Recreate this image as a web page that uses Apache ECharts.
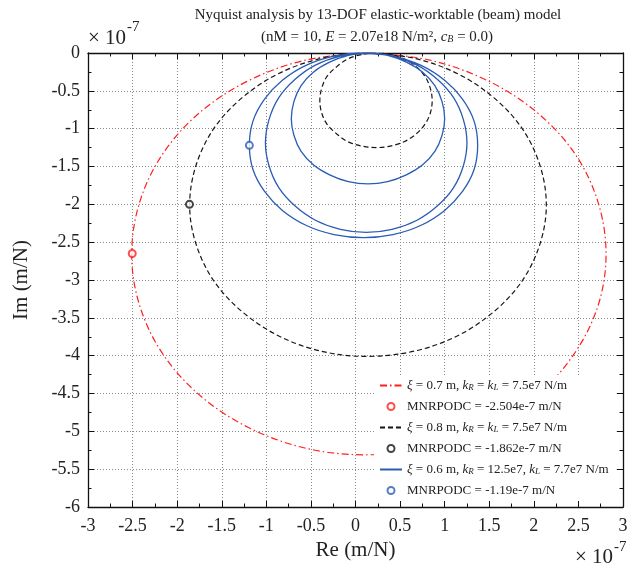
<!DOCTYPE html>
<html>
<head>
<meta charset="utf-8">
<script src="https://cdn.jsdelivr.net/npm/echarts@6/dist/echarts.min.js"></script>
<style>
  html, body { margin: 0; padding: 0; background: #fff; }
  #chart { width: 634px; height: 570px; }
</style>
</head>
<body>
<div id="chart"></div>
<script>
// all values in units of 1e-7 m/N
const xTicks = [-3, -2.5, -2, -1.5, -1, -0.5, 0, 0.5, 1, 1.5, 2, 2.5, 3];
const yTicks = [-6, -5.5, -5, -4.5, -4, -3.5, -3, -2.5, -2, -1.5, -1, -0.5, 0];

// xi = 0.7 m (red, dash-dot)
const redLoop = [
  [0.13, 0], [0.82, -0.09], [1.49, -0.37], [2.04, -0.79], [2.46, -1.33], [2.72, -1.97],
  [2.81, -2.66], [2.72, -3.34], [2.45, -3.98], [2.03, -4.53], [1.47, -4.95], [0.80, -5.22],
  [0.10, -5.31], [-0.57, -5.22], [-1.20, -4.95], [-1.74, -4.53], [-2.16, -3.98], [-2.42, -3.34],
  [-2.51, -2.66], [-2.42, -1.97], [-2.16, -1.33], [-1.74, -0.78], [-1.19, -0.36], [-0.55, -0.09],
  [0.13, 0]
];
// xi = 0.8 m (black, dashed): big loop then small loop
const blackOuter = [
  [0.14, 0], [0.66, -0.07], [1.14, -0.27], [1.55, -0.59], [1.87, -1.00], [2.07, -1.49],
  [2.14, -2.01], [2.07, -2.52], [1.87, -3.01], [1.55, -3.42], [1.14, -3.74], [0.66, -3.94],
  [0.12, -4.01], [-0.39, -3.94], [-0.86, -3.74], [-1.27, -3.42], [-1.59, -3.01], [-1.79, -2.52],
  [-1.86, -2.01], [-1.79, -1.49], [-1.59, -1.00], [-1.27, -0.59], [-0.86, -0.27], [-0.38, -0.07],
  [0.14, 0]
];
const blackInner = [
  [0.23, 0], [0.39, -0.02], [0.55, -0.08], [0.68, -0.18], [0.78, -0.31], [0.84, -0.47],
  [0.86, -0.63], [0.84, -0.79], [0.78, -0.94], [0.68, -1.07], [0.55, -1.17], [0.39, -1.23],
  [0.23, -1.25], [0.07, -1.23], [-0.09, -1.17], [-0.21, -1.07], [-0.32, -0.94], [-0.38, -0.79],
  [-0.40, -0.63], [-0.38, -0.47], [-0.32, -0.31], [-0.21, -0.18], [-0.09, -0.08], [0.07, -0.02],
  [0.23, 0]
];
// xi = 0.6 m (blue, solid): three loops
const blueLoop1 = [
  [0.09, 0], [0.42, -0.04], [0.73, -0.16], [1.00, -0.36], [1.20, -0.61], [1.33, -0.90],
  [1.37, -1.22], [1.33, -1.54], [1.20, -1.83], [1.00, -2.08], [0.73, -2.28], [0.42, -2.40],
  [0.09, -2.44], [-0.24, -2.40], [-0.55, -2.28], [-0.82, -2.08], [-1.02, -1.83], [-1.15, -1.54],
  [-1.19, -1.22], [-1.15, -0.90], [-1.02, -0.61], [-0.82, -0.36], [-0.55, -0.16], [-0.24, -0.04],
  [0.09, 0]
];
const blueLoop2 = [
  [0.12, 0], [0.41, -0.04], [0.69, -0.16], [0.92, -0.35], [1.10, -0.59], [1.21, -0.88],
  [1.25, -1.19], [1.21, -1.49], [1.10, -1.78], [0.92, -2.02], [0.69, -2.21], [0.41, -2.33],
  [0.12, -2.37], [-0.17, -2.33], [-0.45, -2.21], [-0.68, -2.02], [-0.86, -1.78], [-0.97, -1.49],
  [-1.01, -1.19], [-0.97, -0.88], [-0.86, -0.59], [-0.68, -0.35], [-0.45, -0.16], [-0.17, -0.04],
  [0.12, 0]
];
const blueLoop3 = [
  [0.14, 0], [0.36, -0.03], [0.57, -0.12], [0.75, -0.25], [0.89, -0.43], [0.97, -0.64],
  [1.00, -0.87], [0.97, -1.09], [0.89, -1.30], [0.75, -1.48], [0.57, -1.61], [0.36, -1.70],
  [0.14, -1.73], [-0.08, -1.70], [-0.29, -1.61], [-0.47, -1.48], [-0.61, -1.30], [-0.69, -1.09],
  [-0.72, -0.87], [-0.69, -0.64], [-0.61, -0.43], [-0.47, -0.25], [-0.29, -0.12], [-0.08, -0.03],
  [0.14, 0]
];
// MNRPODC points
const redMark = [[-2.504, -2.65]];
const blackMark = [[-1.862, -2.0]];
const blueMark = [[-1.19, -1.22]];

const FONT = 'Liberation Serif';
const RED = '#ff1f1f';
const BLACK = '#151515';
const BLUE = '#2a5cb4';
const SMOOTH = 0.34;

const legendText = {
  r07: '{i|ξ} = 0.7 m, {i|k}{s|R} = {i|k}{s|L} = 7.5e7 N/m',
  rMark: 'MNRPODC = -2.504e-7 m/N',
  b08: '{i|ξ} = 0.8 m, {i|k}{s|R} = {i|k}{s|L} = 7.5e7 N/m',
  bMark: 'MNRPODC = -1.862e-7 m/N',
  u06: '{i|ξ} = 0.6 m, {i|k}{s|R} = 12.5e7, {i|k}{s|L} = 7.7e7 N/m',
  uMark: 'MNRPODC = -1.19e-7 m/N'
};

const chart = echarts.init(document.getElementById('chart'));

function valueAxis(dim, pos, ticks, main) {
  const ax = {
    type: 'value',
    position: pos,
    min: ticks[0],
    max: ticks[ticks.length - 1],
    interval: 0.5,
    axisLine: { show: true, onZero: false, lineStyle: { color: '#111', width: 1.3 } },
    axisTick: { show: true, inside: true, length: 6, lineStyle: { color: '#111', width: 1 } },
    minorTick: { show: true, splitNumber: 2, length: 3.5, lineStyle: { color: '#111', width: 1 } },
    splitLine: { show: main, lineStyle: { color: '#8a8a8a', width: 1, type: [1, 2] } },
    axisLabel: {
      show: main,
      color: '#222',
      fontFamily: FONT,
      fontSize: 18,
      margin: dim === 'x' ? 10 : 8
    }
  };
  if (main) {
    ax.name = dim === 'x' ? 'Re (m/N)' : 'Im (m/N)';
    ax.nameLocation = 'middle';
    ax.nameGap = dim === 'x' ? 32 : 56;
    ax.nameTextStyle = { color: '#222', fontFamily: FONT, fontSize: 21 };
  }
  return ax;
}

const richSub = {
  i: { fontStyle: 'italic', fontFamily: FONT, fontSize: 13, color: '#222' },
  s: { fontStyle: 'italic', fontFamily: FONT, fontSize: 9, color: '#222', verticalAlign: 'bottom', lineHeight: 10 }
};

// hide the dot that echarts puts in the middle of a line legend icon
const noDot = { opacity: 0 };

const option = {
  animation: false,
  backgroundColor: '#fff',
  grid: { left: 88, right: 11, top: 53, bottom: 63, containLabel: false },
  xAxis: [valueAxis('x', 'bottom', xTicks, true), valueAxis('x', 'top', xTicks, false)],
  yAxis: [valueAxis('y', 'left', yTicks, true), valueAxis('y', 'right', yTicks, false)],
  legend: {
    orient: 'vertical',
    left: 374,
    top: 375,
    padding: [4, 8, 4, 5],
    backgroundColor: '#fff',
    itemWidth: 22,
    itemHeight: 7,
    itemGap: 8,
    data: [
      { name: 'r07', itemStyle: noDot },
      'rMark',
      { name: 'b08', itemStyle: noDot },
      'bMark',
      { name: 'u06', itemStyle: noDot },
      'uMark'
    ],
    formatter: (name) => legendText[name],
    textStyle: {
      color: '#222',
      fontFamily: FONT,
      fontSize: 13,
      lineHeight: 13,
      rich: richSub
    }
  },
  graphic: [
    {
      type: 'text',
      style: {
        text: 'Nyquist analysis by 13-DOF elastic-worktable (beam) model',
        x: 378, y: 15, align: 'center', verticalAlign: 'middle',
        fontFamily: FONT, fontSize: 15, fill: '#222'
      }
    },
    {
      type: 'text',
      style: {
        text: '(nM = 10, {i|E} = 2.07e18 N/m², {i|c}{s|B} = 0.0)',
        x: 377, y: 37, align: 'center', verticalAlign: 'middle',
        fontFamily: FONT, fontSize: 15, fill: '#222',
        rich: {
          i: { fontStyle: 'italic', fontFamily: FONT, fontSize: 15, fill: '#222' },
          s: { fontStyle: 'italic', fontFamily: FONT, fontSize: 10, fill: '#222', verticalAlign: 'bottom', lineHeight: 11 }
        }
      }
    },
    { type: 'text', style: { text: '× 10', x: 88, y: 38, verticalAlign: 'middle', fontFamily: FONT, fontSize: 21, fill: '#222' } },
    { type: 'text', style: { text: '-7', x: 127, y: 27, verticalAlign: 'middle', fontFamily: FONT, fontSize: 15, fill: '#222' } },
    { type: 'text', style: { text: '× 10', x: 613, y: 557, align: 'right', verticalAlign: 'middle', fontFamily: FONT, fontSize: 21, fill: '#222' } },
    { type: 'text', style: { text: '-7', x: 614, y: 547, verticalAlign: 'middle', fontFamily: FONT, fontSize: 15, fill: '#222' } }
  ],
  series: [
    {
      name: 'r07', type: 'line', data: redLoop, symbol: 'none', smooth: SMOOTH,
      lineStyle: { color: RED, width: 1.2, type: [7, 3, 1.5, 3] }, itemStyle: { color: RED }
    },
    {
      name: 'rMark', type: 'scatter', data: redMark, symbol: 'emptyCircle', symbolSize: 7,
      itemStyle: { color: RED, borderColor: RED, borderWidth: 1.2 }, z: 5
    },
    {
      name: 'b08', type: 'line', data: blackOuter.concat(blackInner), symbol: 'none', smooth: SMOOTH,
      lineStyle: { color: BLACK, width: 1.2, type: [5, 3] }, itemStyle: { color: BLACK }
    },
    {
      name: 'bMark', type: 'scatter', data: blackMark, symbol: 'emptyCircle', symbolSize: 7,
      itemStyle: { color: BLACK, borderColor: BLACK, borderWidth: 1.2 }, z: 5
    },
    {
      name: 'u06', type: 'line', data: blueLoop1.concat(blueLoop2, blueLoop3), symbol: 'none', smooth: SMOOTH,
      lineStyle: { color: BLUE, width: 1.3 }, itemStyle: { color: BLUE }
    },
    {
      name: 'uMark', type: 'scatter', data: blueMark, symbol: 'emptyCircle', symbolSize: 7,
      itemStyle: { color: BLUE, borderColor: BLUE, borderWidth: 1.2 }, z: 5
    }
  ]
};

chart.setOption(option);
</script>
</body>
</html>
